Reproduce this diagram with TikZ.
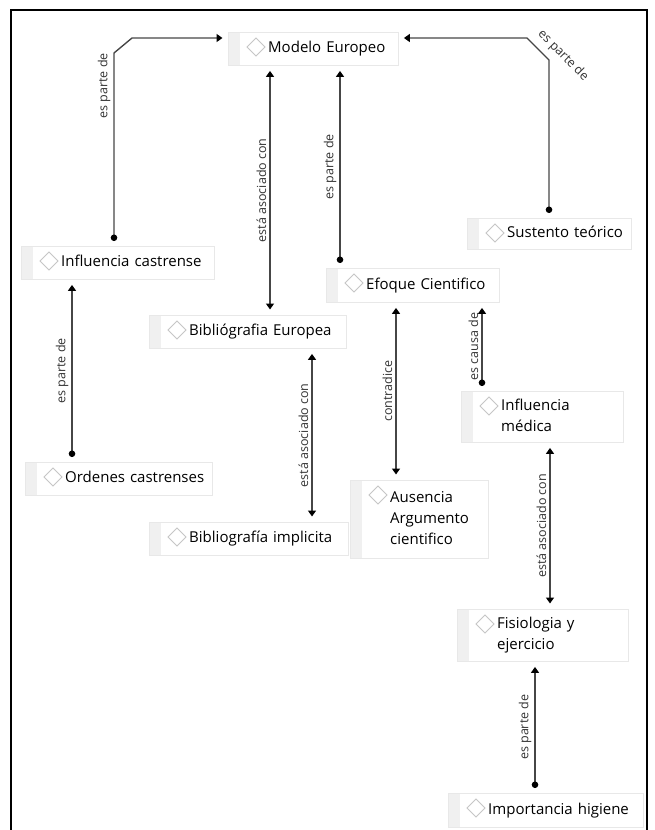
\documentclass[tikz,border=0pt]{standalone}
\usepackage{fontspec}
\setmainfont{Open Sans}
\usetikzlibrary{arrows.meta}

% texto del concepto: sangria para el rombo
\newcommand{\lineas}[1]{\hspace*{40pt}\begin{tabular}[t]{@{}l@{}}#1\end{tabular}}

\tikzset{
  concepto/.style={draw=gray!18, fill=white, anchor=north west, inner xsep=0pt, inner ysep=0pt,
    align=left, font=\fontsize{15}{21}\selectfont, text=black,
    path picture={\fill[gray!12] (path picture bounding box.north west) rectangle ([xshift=12pt]path picture bounding box.south west);}},
  rombo/.style={draw=gray!45, line width=1pt},
  enlace/.style={draw=gray!55!black, line width=1.4pt},
  parte/.style={enlace, {Circle[length=6.5pt,color=black]}-{Triangle[length=6pt,width=8pt,color=black]}, shorten <=5pt, shorten >=5.5pt},
  doble/.style={enlace, {Triangle[length=6pt,width=8pt,color=black]}-{Triangle[length=6pt,width=8pt,color=black]}, shorten <=5.5pt, shorten >=5.5pt},
  etiqueta/.style={font=\fontsize{12.5}{14}\selectfont, text=black!80, sloped, above, inner sep=3pt}
}

\begin{document}
\begin{tikzpicture}[x=1pt, y=-1pt]
    \useasboundingbox (0,0) rectangle (654,830);

    % Marco
    \draw[line width=2pt] (11,845) -- (11,10) -- (647,10) -- (647,845);

    % Conceptos
    \node[concepto, text width=170pt, minimum height=33pt] (modelo) at (228,32) {\lineas{Modelo Europeo}};
    \node[concepto, text width=164pt, minimum height=31pt] (sustento) at (467,218) {\lineas{Sustento teórico}};
    \node[concepto, text width=193pt, minimum height=33pt] (infcas) at (21,246) {\lineas{Influencia castrense}};
    \node[concepto, text width=173pt, minimum height=34pt] (efoque) at (326,268) {\lineas{Efoque Cientifico}};
    \node[concepto, text width=197pt, minimum height=33pt] (bibeur) at (149,315) {\lineas{Bibliógrafia Europea}};
    \node[concepto, text width=162pt, minimum height=51pt] (infmed) at (461,391) {\lineas{Influencia\\médica}};
    \node[concepto, text width=187pt, minimum height=33pt] (ordenes) at (25,462) {\lineas{Ordenes castrenses}};
    \node[concepto, text width=138pt, minimum height=78pt] (ausencia) at (350,480) {\lineas{Ausencia\\Argumento\\cientifico}};
    \node[concepto, text width=199pt, minimum height=33pt] (bibimp) at (149,522) {\lineas{Bibliografía implicita}};
    \node[concepto, text width=171pt, minimum height=52pt] (fisio) at (457,609) {\lineas{Fisiologia y\\ejercicio}};
    \node[concepto, text width=195pt, minimum height=34pt] (higiene) at (448,793) {\lineas{Importancia higiene}};

    % Rombos
    \foreach \n in {modelo,sustento,infcas,efoque,bibeur,infmed,ordenes,ausencia,bibimp,fisio,higiene}
        \draw[rombo] ([xshift=28pt,yshift=-15pt]\n.north west) +(-9,0) -- +(0,9) -- +(9,0) -- +(0,-9) -- cycle;

    % Relaciones
    \draw[parte] ([xshift=93pt]infcas.north west) coordinate (a1)
        -- node[etiqueta, pos=0.83] {es parte de} (a1 |- 0,53) -- (132,38) -- ([yshift=-6pt]modelo.north west);
    \draw[parte] ([xshift=82pt]sustento.north west) coordinate (a2)
        -- (a2 |- 0,60) -- node[etiqueta, pos=-0.22, inner sep=6pt] {es parte de} (527,38) -- ([yshift=-6pt]modelo.north east);
    \draw[doble] ([xshift=121pt]bibeur.north west) coordinate (a3)
        -- node[etiqueta] {está asociado con} (a3 |- modelo.south);
    \draw[parte] ([xshift=14pt]efoque.north west) coordinate (a4)
        -- node[etiqueta] {es parte de} (a4 |- modelo.south);
    \draw[parte] ([xshift=47pt]ordenes.north west) coordinate (a5)
        -- node[etiqueta] {es parte de} (a5 |- infcas.south);
    \draw[doble] ([xshift=163pt]bibimp.north west) coordinate (a6)
        -- node[etiqueta] {está asociado con} (a6 |- bibeur.south);
    \draw[doble] ([xshift=46pt]ausencia.north west) coordinate (a7)
        -- node[etiqueta] {contradice} (a7 |- efoque.south);
    \draw[parte] ([xshift=21pt]infmed.north west) coordinate (a8)
        -- node[etiqueta] {es causa de} (a8 |- efoque.south);
    \draw[doble] ([xshift=93pt]fisio.north west) coordinate (a9)
        -- node[etiqueta] {está asociado con} (a9 |- infmed.south);
    \draw[parte] ([xshift=87pt]higiene.north west) coordinate (a10)
        -- node[etiqueta] {es parte de} (a10 |- fisio.south);
\end{tikzpicture}
\end{document}
